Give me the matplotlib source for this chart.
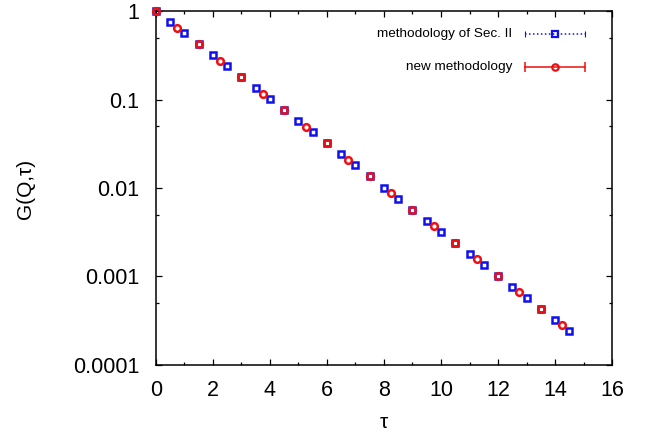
import numpy as np
import matplotlib.pyplot as plt
from matplotlib.ticker import FixedLocator, FixedFormatter

plt.rcParams['font.family'] = ['Liberation Sans', 'DejaVu Sans']

# methodology of Sec. II (blue squares)
tau_old = [0.0, 0.5, 1.0, 1.5, 2.0, 2.5, 3.0, 3.5, 4.0, 4.5,
           5.0, 5.5, 6.0, 6.5, 7.0, 7.5, 8.0, 8.5, 9.0, 9.5,
           10.0, 10.5, 11.0, 11.5, 12.0, 12.5, 13.0, 13.5, 14.0, 14.5]
g_old = [1.0, 0.750, 0.563, 0.423, 0.317, 0.238, 0.179, 0.134, 0.1006, 0.0755,
         0.0567, 0.0425, 0.0319, 0.0240, 0.0180, 0.0135, 0.0101, 0.00760, 0.00571, 0.00428,
         0.00321, 0.00241, 0.00181, 0.00136, 0.00102, 0.000765, 0.000574, 0.000431, 0.000324, 0.000243]

# new methodology (red circles)
tau_new = [0.0, 0.75, 1.5, 2.25, 3.0, 3.75, 4.5, 5.25, 6.0, 6.75,
           7.5, 8.25, 9.0, 9.75, 10.5, 11.25, 12.0, 12.75, 13.5, 14.25]
g_new = [1.0, 0.650, 0.423, 0.275, 0.179, 0.116, 0.0755, 0.0491, 0.0319, 0.0208,
         0.0135, 0.00878, 0.00571, 0.00371, 0.00241, 0.00157, 0.00102, 0.000663, 0.000431, 0.000280]

ytick_vals = [1e-4, 1e-3, 1e-2, 1e-1, 1]
ytick_labels = ['0.0001', '0.001', '0.01', '0.1', '1']

blue = '#1010ee'
red = '#ee1010'

fig = plt.figure(figsize=(6.62, 4.37), dpi=100)
ax = fig.add_axes([0.2356, 0.1648, 0.6889, 0.8100])

ax.plot(tau_old, g_old, linestyle='none', marker='s', markersize=4.8,
        markerfacecolor='none', markeredgecolor=blue, markeredgewidth=1.8, clip_on=False, zorder=3)
ax.plot(tau_new, g_new, linestyle='none', marker='o', markersize=4.8,
        markerfacecolor='none', markeredgecolor=red, markeredgewidth=1.8, clip_on=False, zorder=4)

ax.set_yscale('log')
ax.set_xlim(0, 16)
ax.set_ylim(1e-4, 1)
ax.set_xticks(np.arange(0, 17, 2))
ax.set_xticks(np.arange(1, 16, 2), minor=True)
ax.yaxis.set_major_locator(FixedLocator(ytick_vals))
ax.yaxis.set_major_formatter(FixedFormatter(ytick_labels))
ax.yaxis.set_minor_locator(FixedLocator([5e-4, 5e-3, 5e-2, 5e-1]))
ax.yaxis.set_minor_formatter(FixedFormatter(['', '', '', '']))
ax.tick_params(which='both', direction='in', top=True, right=True, labelsize=15.5, width=0.9)
ax.tick_params(which='major', length=4.2)
ax.tick_params(which='minor', length=2.4)
ax.tick_params(axis='x', which='major', pad=10.5)
ax.tick_params(axis='y', which='major', pad=12)
for s in ax.spines.values():
    s.set_linewidth(1.1)

ax.set_xlabel('τ', fontsize=15)
ax.set_ylabel('G(Q,τ)', fontsize=15)
ax.xaxis.set_label_coords(0.50, -0.135)
ax.yaxis.set_label_coords(-0.265, 0.497)

# gnuplot-style key
tr = ax.transAxes
y1, y2 = 0.935, 0.841
ax.text(0.781, y1, 'methodology of Sec. II', transform=tr, ha='right', va='center', fontsize=9.7)
ax.plot([0.809, 0.941], [y1, y1], transform=tr, color=blue, lw=1.1, ls=(0, (1.0, 1.6)))
ax.plot([0.809, 0.941], [y1, y1], transform=tr, linestyle='none', marker='|',
        markersize=5, color=blue, markeredgewidth=0.8)
ax.plot([0.875], [y1], transform=tr, marker='s', markersize=4.6, color=blue,
        markerfacecolor='none', markeredgewidth=1.6)
ax.text(0.781, y2, 'new methodology', transform=tr, ha='right', va='center', fontsize=9.7)
ax.plot([0.809, 0.941], [y2, y2], transform=tr, color=red, lw=1.1)
ax.plot([0.809, 0.941], [y2, y2], transform=tr, linestyle='none', marker='|',
        markersize=7, color=red, markeredgewidth=1.1)
ax.plot([0.875], [y2], transform=tr, marker='o', markersize=4.6, color=red,
        markerfacecolor='none', markeredgewidth=1.6)

fig.savefig('out.png', dpi=100)
